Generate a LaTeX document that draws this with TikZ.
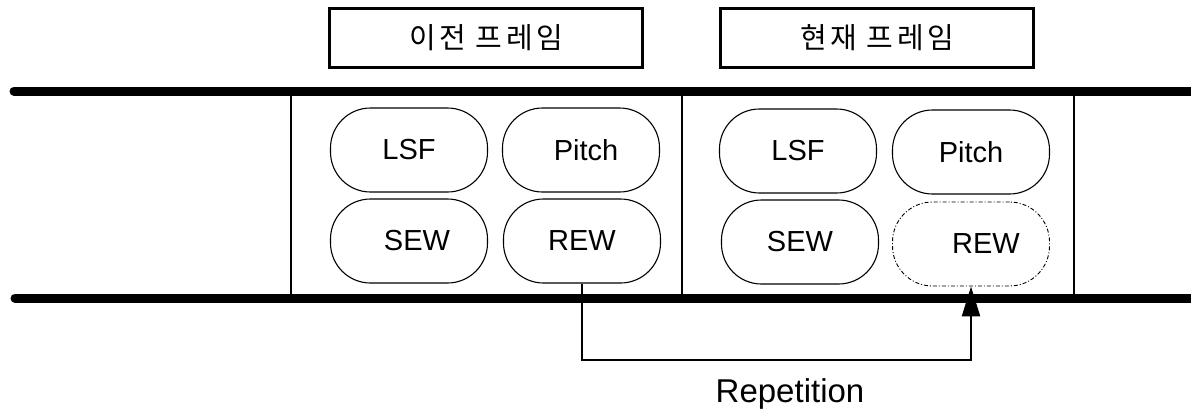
\documentclass[tikz,border=0pt]{standalone}
\usepackage{fontspec}
\setmainfont{Liberation Sans}
\newfontfamily\krfont[LetterSpace=12]{Noto Sans CJK KR}
\usetikzlibrary{arrows.meta}
\tikzset{
  rail/.style={line width=9pt, line cap=round},
  wall/.style={line width=1.6pt},
  title/.style={draw, line width=2.2pt, minimum width=313pt, minimum height=59pt,
    inner sep=0pt, font=\krfont\fontsize{29}{34}\selectfont},
  field/.style={draw, line width=1.1pt, rounded corners=40pt, minimum width=157pt,
    minimum height=84pt, inner sep=0pt, font=\fontsize{29}{34}\selectfont},
  copied/.style={field, dash pattern=on 4pt off 2pt on 1pt off 2pt, line width=0.9pt},
  conn/.style={line width=2.4pt, -{Triangle[length=30pt,width=18pt]}}
}
\begin{document}
\begin{tikzpicture}[x=1pt,y=-1pt]
  \useasboundingbox (0,0) rectangle (1191,415);

  % frame titles
  \node[title] (tprev) at (486,38) {이전 프레임};
  \node[title] (tcur)  at (877,38) {현재 프레임};

  % bit-stream rails
  \coordinate (ra) at (14,91);   \coordinate (rb) at (1191,91);
  \coordinate (rc) at (15,298);  \coordinate (rd) at (1191,298);
  \draw[rail] (ra) -- (rb);
  \draw[rail] (rc) -- (rd);

  % frame boundaries
  \foreach \x/\n in {291/wa, 682/wb, 1074/wc} {
    \coordinate (\n t) at (\x,91); \coordinate (\n b) at (\x,298);
    \draw[wall] (\n t) -- (\n b);
  }

  % previous frame parameters
  \node[field] (lsf1)   at (409,150) {LSF};
  \node[field] (pitch1) at (581,150) {\hspace*{10pt}Pitch};
  \node[field] (sew1)   at (409,241) {\hspace*{16pt}SEW};
  \node[field] (rew1)   at (582,241) {REW};

  % current frame parameters
  \node[field]  (lsf2)   at (798,151) {LSF};
  \node[field]  (pitch2) at (971,152) {Pitch};
  \node[field]  (sew2)   at (800,242) {SEW};
  \node[copied] (rew2)   at (971,244) {\hspace*{30pt}REW};

  % repetition of the REW parameter
  \coordinate (loop) at (582,360);
  \draw[conn] (rew1.south) -- (loop) -| (rew2.south);
  \node[font=\fontsize{33}{38}\selectfont] (rep) at (790,394) {Repetition};
\end{tikzpicture}
\end{document}
